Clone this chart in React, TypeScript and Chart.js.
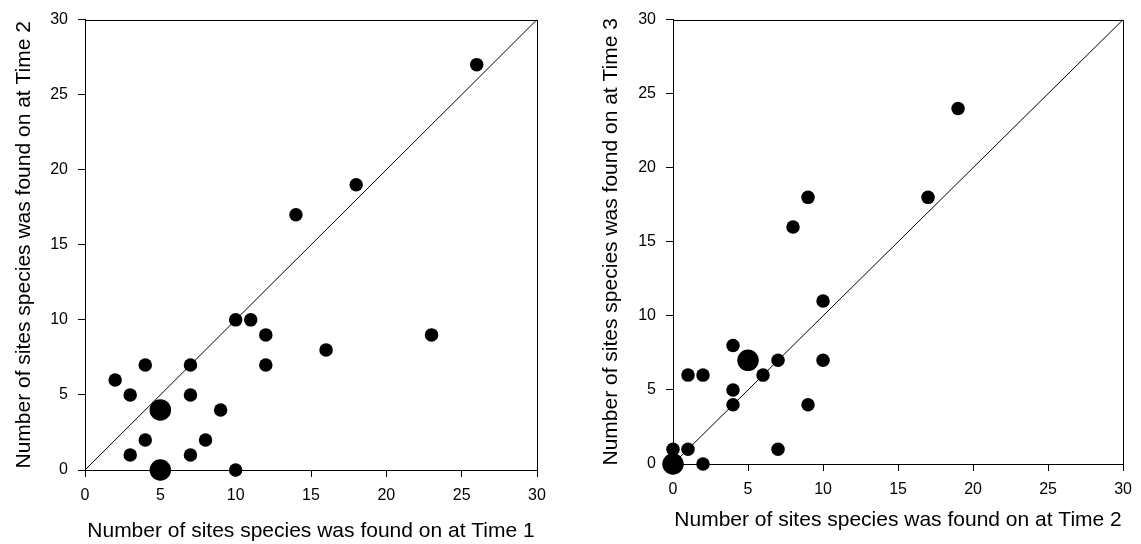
import React, { useEffect, useRef } from "react";
import { Chart, registerables } from "chart.js";

Chart.register(...registerables);

// Panel 1: Time 1 vs Time 2
const t1X = [2, 3, 3, 4, 4, 5, 5, 7, 7, 7, 8, 9, 10, 11, 12, 12, 10, 14, 16, 18, 23, 26];
const t1Y = [6, 5, 1, 7, 2, 4, 0, 7, 5, 1, 2, 4, 10, 10, 9, 7, 0, 17, 8, 19, 9, 27];
const t1N = [1, 1, 1, 1, 1, 2, 2, 1, 1, 1, 1, 1, 1, 1, 1, 1, 1, 1, 1, 1, 1, 1];

// Panel 2: Time 2 vs Time 3
const t2X = [0, 0, 1, 1, 2, 2, 4, 4, 4, 5, 6, 7, 7, 8, 9, 9, 10, 10, 17, 19];
const t2Y = [1, 0, 1, 6, 6, 0, 8, 5, 4, 7, 6, 7, 1, 16, 18, 4, 11, 7, 18, 24];
const t2N = [1, 2, 1, 1, 1, 1, 1, 1, 1, 2, 1, 1, 1, 1, 1, 1, 1, 1, 1, 1];

const axisMin = 0;
const axisMax = 30;
const axisStep = 5;

const titleX1 = "Number of sites species was found on at Time 1";
const titleY1 = "Number of sites species was found on at Time 2";
const titleX2 = "Number of sites species was found on at Time 2";
const titleY2 = "Number of sites species was found on at Time 3";

const FONT = "'Liberation Sans', Arial, sans-serif";

const frame = {
  id: "frame",
  afterDatasetsDraw(chart: any) {
    const { ctx, chartArea } = chart;
    ctx.save();
    ctx.strokeStyle = "#000";
    ctx.lineWidth = 1;
    ctx.strokeRect(
      Math.round(chartArea.left) + 0.5,
      Math.round(chartArea.top) + 0.5,
      Math.round(chartArea.right - chartArea.left),
      Math.round(chartArea.bottom - chartArea.top)
    );
    ctx.restore();
  },
};

type PanelProps = {
  xs: number[];
  ys: number[];
  ns: number[];
  xTitle: string;
  yTitle: string;
  width: number;
  height: number;
  yAxisWidth: number;
  xAxisHeight: number;
  padTop: number;
  padRight: number;
  yTitlePad: number;
  xTitlePad: number;
};

function Panel(p: PanelProps) {
  const ref = useRef<HTMLCanvasElement | null>(null);
  useEffect(() => {
    if (!ref.current) return;
    const pts = p.xs.map((x, i) => ({ x, y: p.ys[i] }));
    const radii = p.ns.map((n) => (n > 1 ? 10.75 : 6.75));
    const axisCommon = (title: string, isX: boolean) => ({
      type: "linear",
      position: isX ? "bottom" : "left",
      min: axisMin,
      max: axisMax,
      ticks: {
        stepSize: axisStep,
        color: "#000",
        padding: isX ? 9 : 10,
        font: { family: FONT, size: 16 },
        maxRotation: 0,
      },
      grid: {
        drawOnChartArea: false,
        drawTicks: true,
        tickLength: 7,
        color: "#000",
        lineWidth: 1,
      },
      border: { display: true, color: "#000", width: 1 },
      title: {
        display: true,
        text: title,
        color: "#000",
        font: { family: FONT, size: 21 },
        padding: isX ? { top: 0, bottom: p.xTitlePad } : { top: p.yTitlePad, bottom: 0 },
      },
      afterFit: (scale: any) => {
        if (isX) scale.height = p.xAxisHeight;
        else scale.width = p.yAxisWidth;
      },
    });
    const chart = new Chart(ref.current, {
      type: "scatter",
      data: {
        datasets: [
          {
            type: "line",
            data: [
              { x: axisMin, y: axisMin },
              { x: axisMax, y: axisMax },
            ],
            borderColor: "#000",
            borderWidth: 1,
            pointRadius: 0,
            fill: false,
            order: 2,
          } as any,
          {
            data: pts,
            backgroundColor: "#000",
            borderColor: "#000",
            borderWidth: 0,
            pointRadius: radii,
            pointHoverRadius: radii,
            clip: false,
            order: 1,
          } as any,
        ],
      },
      options: {
        responsive: false,
        maintainAspectRatio: false,
        animation: false,
        layout: {
          padding: { left: 0, top: p.padTop, right: p.padRight, bottom: 0 },
        },
        plugins: {
          legend: { display: false },
          tooltip: { enabled: false },
        },
        scales: {
          x: axisCommon(p.xTitle, true) as any,
          y: axisCommon(p.yTitle, false) as any,
        },
      },
      plugins: [frame],
    });
    return () => chart.destroy();
  }, []);
  return <canvas ref={ref} width={p.width} height={p.height} style={{ display: "block" }} />;
}

export default function App() {
  return (
    <div style={{ position: "fixed", left: 0, top: 0, width: 1141, height: 544, background: "#fff" }}>
      <div style={{ position: "absolute", left: 0, top: 0 }}>
        <Panel
          xs={t1X}
          ys={t1Y}
          ns={t1N}
          xTitle={titleX1}
          yTitle={titleY1}
          width={570}
          height={544}
          yAxisWidth={85}
          xAxisHeight={74}
          padTop={18}
          padRight={33}
          yTitlePad={12}
          xTitlePad={0}
        />
      </div>
      <div style={{ position: "absolute", left: 570, top: 0 }}>
        <Panel
          xs={t2X}
          ys={t2Y}
          ns={t2N}
          xTitle={titleX2}
          yTitle={titleY2}
          width={571}
          height={544}
          yAxisWidth={103}
          xAxisHeight={80}
          padTop={13}
          padRight={16}
          yTitlePad={29}
          xTitlePad={11}
        />
      </div>
    </div>
  );
}
